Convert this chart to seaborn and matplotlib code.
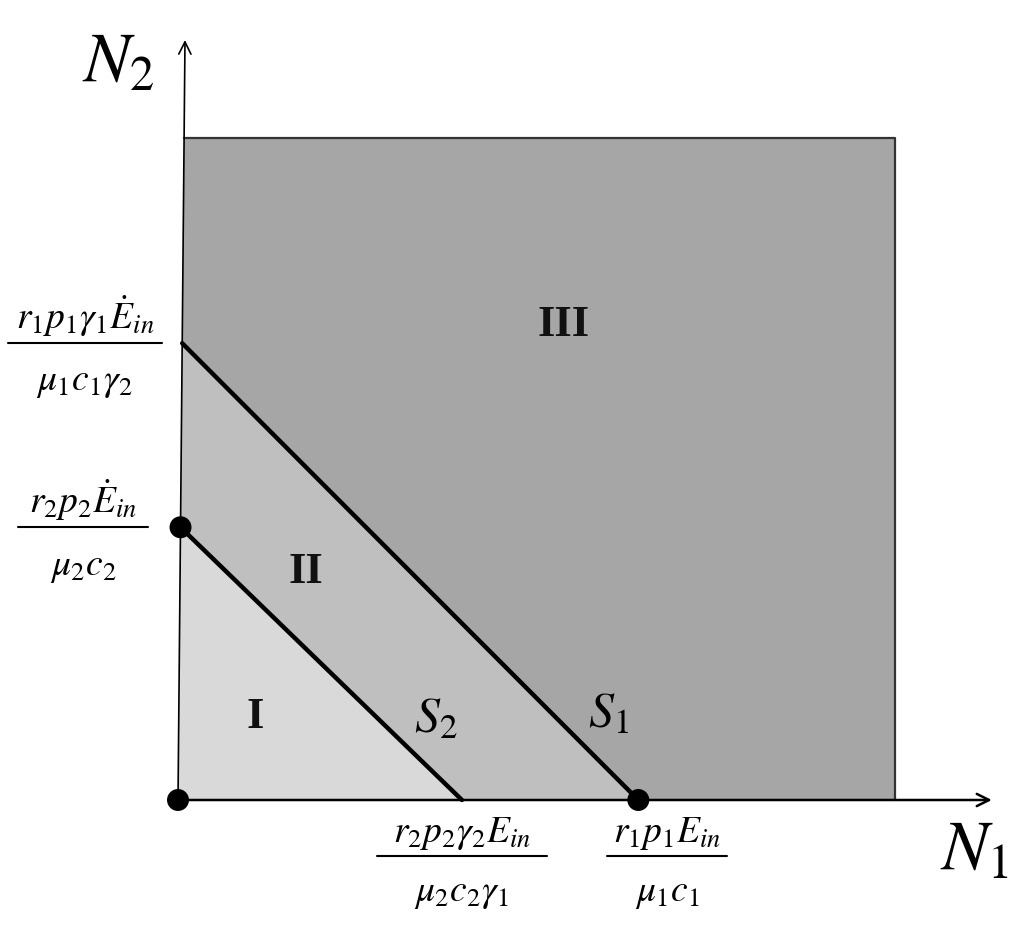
import numpy as np
import matplotlib.pyplot as plt
import seaborn as sns
import pandas as pd
from matplotlib.patches import Rectangle

# intercepts of the two boundary lines (N1 axis, N2 axis), box size = 1
s2_n1, s2_n2 = 0.396, 0.412
s1_n1, s1_n2 = 0.642, 0.690
box_n1, box_n2 = 1.0, 1.0

region_names = ["I", "II", "III"]
region_colors = ["#d9d9d9", "#bfbfbf", "#a6a6a6"]
region_label_pos = [(0.107, 0.125), (0.178, 0.345), (0.538, 0.718)]

line_names = ["$S_2$", "$S_1$"]
line_label_pos = [(0.36, 0.12), (0.6, 0.128)]

xtick_num = [r"$r_2p_2\gamma_2E_{in}$", r"$r_1p_1E_{in}$"]
xtick_den = [r"$\mu_2c_2\gamma_1$", r"$\mu_1c_1$"]
ytick_num = [r"$r_2p_2\dot{E}_{in}$", r"$r_1p_1\gamma_1\dot{E}_{in}$"]
ytick_den = [r"$\mu_2c_2$", r"$\mu_1c_1\gamma_2$"]

sns.set_style("white")
plt.rcParams["mathtext.fontset"] = "stix"
plt.rcParams["font.family"] = ["Liberation Serif", "DejaVu Serif"]
plt.rcParams["text.color"] = "black"

PX, PY = 717, 662  # pixels per data unit
fig = plt.figure(figsize=(10.24, 9.34), dpi=100)
ax = fig.add_axes([0, 0, 1, 1])
ax.set_xlim(-178 / PX, (1024 - 178) / PX)
ax.set_ylim(-134 / PY, 800 / PY)
ax.axis("off")

lean = 0.0085  # slight lean of the hand-drawn N2 axis
ax.fill([0, box_n1, box_n1, lean], [0, 0, box_n2, box_n2],
        color=region_colors[2], lw=0)
ax.fill([0, s1_n1, lean * s1_n2], [0, 0, s1_n2], color=region_colors[1], lw=0)
ax.fill([0, s2_n1, lean * s2_n2], [0, 0, s2_n2], color=region_colors[0], lw=0)

# box outline (top and right)
ax.plot([lean, box_n1, box_n1], [box_n2, box_n2, 0], color="#333333", lw=1.6)

# boundary lines
lines = pd.DataFrame({
    "N1": [lean * s2_n2, s2_n1, lean * s1_n2, s1_n1],
    "N2": [s2_n2, 0, s1_n2, 0],
    "line": ["S2", "S2", "S1", "S1"],
})
sns.lineplot(data=lines, x="N1", y="N2", units="line", estimator=None,
             color="black", lw=3.2, sort=False, ax=ax)

# axes with arrows
ax.annotate("", xy=(1.135, 0), xytext=(-0.001, 0),
            arrowprops=dict(arrowstyle="->", color="black", lw=1.8,
                            mutation_scale=22, shrinkA=0, shrinkB=0))
ax.annotate("", xy=(lean * 1.148, 1.148), xytext=(0, 0),
            arrowprops=dict(arrowstyle="->", color="black", lw=1.2,
                            mutation_scale=22, shrinkA=0, shrinkB=0))

# marked intercept points
pts = pd.DataFrame({"N1": [0, lean * s2_n2, s1_n1], "N2": [0, s2_n2, 0]})
sns.scatterplot(data=pts, x="N1", y="N2", color="black", s=250,
                edgecolor="none", zorder=5, ax=ax)

for name, (px, py) in zip(region_names, region_label_pos):
    ax.text(px, py, name, fontsize=32, fontweight="bold",
            ha="center", va="center", color="#111111")

for name, (px, py) in zip(line_names, line_label_pos):
    ax.text(px, py, name, fontsize=36, ha="center", va="center")

ax.text((82 - 178) / PX, 1.085, "$N_2$", fontsize=50, ha="left", va="baseline")
ax.text(1.063, -0.106, "$N_1$", fontsize=50, ha="left", va="baseline")

FS = 27
# fraction tick labels on N1 (bottom of the picture is cut off)
clip = Rectangle((-1, -106 / PY), 3, 3, transform=ax.transData)
for cx, half, num, den in zip([s2_n1, s1_n1 + 0.04], [0.1186, 0.0837],
                              xtick_num, xtick_den):
    ax.text(cx, -52 / PY, num, fontsize=FS, ha="center", va="bottom")
    ax.plot([cx - half, cx + half], [-56 / PY] * 2, color="black", lw=1.5)
    t = ax.text(cx, -94 / PY, den, fontsize=FS, ha="center", va="center")
    t.set_clip_path(clip)

# fraction tick labels on N2
for yv, cx, half, num, den in zip([s2_n2, s1_n2], [-95 / PX, -93 / PX],
                                  [0.091, 0.107], ytick_num, ytick_den):
    ax.text(cx, yv + 4 / PY, num, fontsize=FS, ha="center", va="bottom")
    ax.plot([cx - half, cx + half], [yv, yv], color="black", lw=1.5)
    ax.text(cx, yv - 40 / PY, den, fontsize=FS, ha="center", va="center")

fig.savefig("out.png", dpi=100, facecolor="white")
